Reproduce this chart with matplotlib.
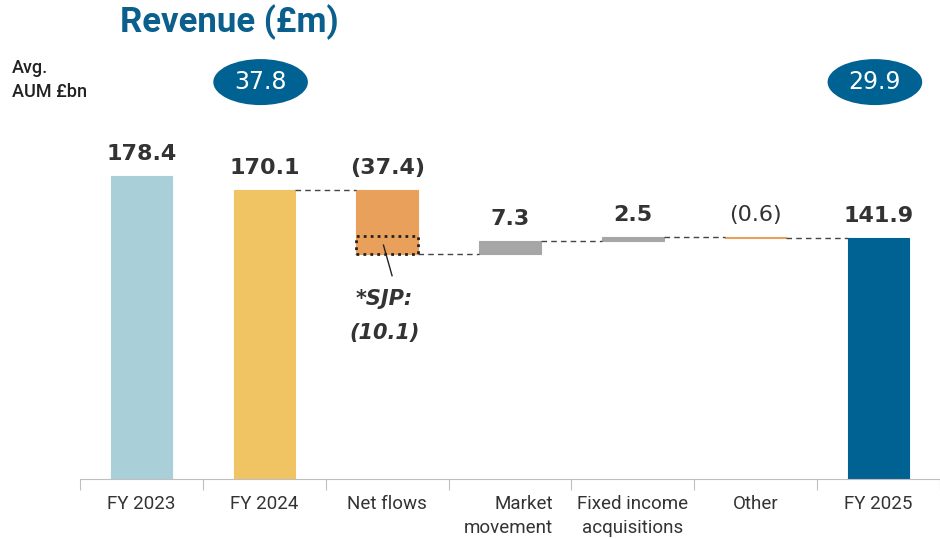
import matplotlib.pyplot as plt
from matplotlib.patches import Ellipse, Rectangle
from matplotlib.transforms import blended_transform_factory

categories = ["FY 2023", "FY 2024", "Net flows", "Market\nmovement",
              "Fixed income\nacquisitions", "Other", "FY 2025"]
totals = {0: 178.4, 1: 170.1, 6: 141.9}
changes = {2: -37.4, 3: 7.3, 4: 2.5, 5: -0.6}
value_labels = ["178.4", "170.1", "(37.4)", "7.3", "2.5", "(0.6)", "141.9"]
sjp_value = 10.1
aum_labels = ["37.8", "29.9"]
aum_positions = [1, 6]

colors = ["#A9CFD8", "#F0C462", "#E9A05A", "#A6A6A6", "#A6A6A6", "#E9A05A", "#006193"]
dark = "#333333"
blue = "#0B5F8C"

plt.rcParams['font.family'] = ['Roboto', 'DejaVu Sans']

fig = plt.figure(figsize=(9.4, 5.39), dpi=100)
ax = fig.add_axes([80 / 940, 1 - 479 / 539, 860 / 940, 479 / 539])
ax.set_xlim(-0.5, 6.5)
ax.set_ylim(0, 282)

# compute waterfall bottoms / heights
bottoms, heights, tops = [], [], []
running = 0
for i in range(len(categories)):
    if i in totals:
        running = totals[i]
        bottoms.append(0)
        heights.append(running)
    else:
        start = running
        running = running + changes[i]
        bottoms.append(min(start, running))
        heights.append(abs(changes[i]))
    tops.append(bottoms[-1] + heights[-1])

w = 0.5
ax.bar(range(len(categories)), heights, bottom=bottoms, width=w, color=colors,
       edgecolor=colors, linewidth=0.8)

# connectors
levels = []
running = 0
for i in range(len(categories)):
    running = totals[i] if i in totals else running + changes[i]
    levels.append(running)
for i in range(1, len(categories) - 1):
    ax.plot([i + w / 2, i + 1 - w / 2], [levels[i], levels[i]], ls=(0, (4, 3)),
            color="#444444", lw=1)

# value labels
bold = [True, True, True, True, True, False, True]
for i, lab in enumerate(value_labels):
    ax.text(i, tops[i] + 7, lab, ha="center", va="bottom", fontsize=16,
            fontweight="bold" if bold[i] else "normal", color=dark,
            family=['DejaVu Sans'])

# SJP dotted box
nf_bottom = levels[2]
ax.add_patch(Rectangle((2 - w / 2, nf_bottom), w, sjp_value, fill=False,
                       ls=(0, (1, 1.5)), lw=2, edgecolor="#222222", zorder=3))
ax.plot([1.97, 2.04], [nf_bottom + 5, nf_bottom - 13], color="#222222", lw=1)
ax.text(1.98, nf_bottom - 27, "*SJP:", ha="center", va="center", fontsize=15,
        fontweight="bold", style="italic", color=dark, family=['DejaVu Sans'])
ax.text(1.98, nf_bottom - 47, "(%.1f)" % sjp_value, ha="center", va="center",
        fontsize=15, fontweight="bold", style="italic", color=dark,
        family=['DejaVu Sans'])

# axes styling
for s in ["top", "right", "left"]:
    ax.spines[s].set_visible(False)
ax.spines["bottom"].set_color("#BFBFBF")
ax.set_yticks([])
ax.set_xticks([x - 0.5 for x in range(len(categories) + 1)])
ax.set_xticklabels([])
ax.tick_params(axis="x", length=8, color="#BFBFBF", direction="out")

trans = blended_transform_factory(ax.transData, ax.transAxes)
for i, lab in enumerate(categories):
    if i == 3:
        ax.text(i + 0.35, -0.033, lab, transform=trans, ha="right", va="top",
                fontsize=13.5, color=dark, linespacing=1.45)
    else:
        ax.text(i, -0.033, lab, transform=trans, ha="center", va="top",
                fontsize=13.5, color=dark, linespacing=1.45)

# title and AUM
fig.text(229 / 940, 1 - 22 / 539, "Revenue (£m)", ha="center", va="center",
         fontsize=25, fontweight="bold", color=blue)
fig.text(12 / 940, 1 - 80 / 539, "Avg.\nAUM £bn", ha="left", va="center",
         fontsize=13, fontweight="medium", color="#222222", linespacing=1.4)
for pos, lab in zip(aum_positions, aum_labels):
    ax.add_patch(Ellipse((pos - 0.03, 397 / 1.699), 0.77, 46 / 1.699,
                         facecolor="#006193", edgecolor="none", clip_on=False))
    ax.text(pos - 0.03, 397 / 1.699, lab, ha="center", va="center",
            fontsize=17, color="white", family=['DejaVu Sans'])

fig.savefig("out.png", dpi=100)
